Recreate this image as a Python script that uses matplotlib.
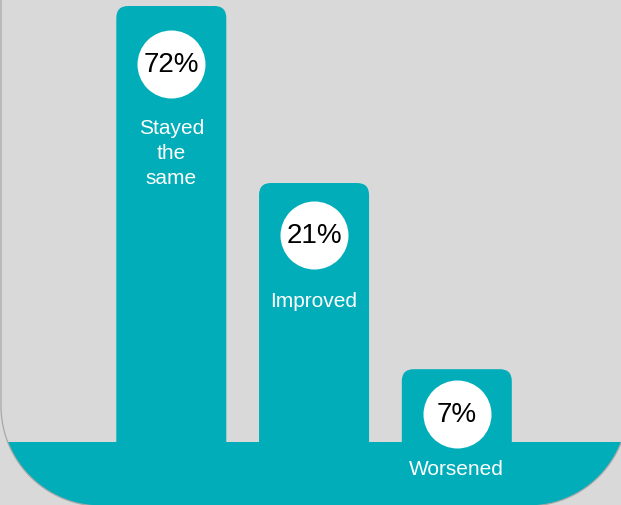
import numpy as np
import matplotlib
matplotlib.use("Agg")
import matplotlib.pyplot as plt
from matplotlib.patches import FancyBboxPatch, Rectangle, Polygon

# data read from the infographic (bar heights are not to scale with the values)
categories = ["Stayed\nthe\nsame", "Improved", "Worsened"]
percents = [72, 21, 7]
bar_heights = [100, 59.4, 16.7]   # relative height, tallest = 100

TEAL = "#00adb9"
GREY = "#d9d9d9"
plt.rcParams["font.family"] = ["Liberation Sans", "DejaVu Sans"]

W, H = 621, 506
X_PER = 142.75      # px per category step
X0 = 171.3          # px of first category centre
Y_PER = 4.36        # px per height unit
BASE = 63           # px of baseline from bottom

# per-bar layout tweaks (px below bar top)
circle_drop = [58, 52, 45]
label_drop = [112, 108, 90]

fig = plt.figure(figsize=(W / 100, H / 100), dpi=100, facecolor=GREY)

# background: panel with rounded bottom corners and a teal floor band
bg = fig.add_axes([0, 0, 1, 1])
bg.set_xlim(0, W); bg.set_ylim(0, H); bg.axis("off")
r, left, right, bot = 100, 1, 628, -1
t1 = np.linspace(np.pi, 1.5 * np.pi, 40)
t2 = np.linspace(1.5 * np.pi, 2 * np.pi, 40)
xs = np.concatenate([[left], left + r + r * np.cos(t1), right - r + r * np.cos(t2), [right]])
ys = np.concatenate([[H + 20], bot + r + r * np.sin(t1), bot + r + r * np.sin(t2), [H + 20]])
floor = Polygon(np.column_stack([xs, ys]), closed=True, facecolor=TEAL, edgecolor="none")
bg.add_patch(floor)
floor.set_clip_path(Rectangle((0, 0), W, BASE, transform=bg.transData))
bg.plot(xs, ys, color="#a8a8a8", linewidth=0.9)

ax = fig.add_axes([0, 0, 1, 1], facecolor="none")
ax.set_xlim(-X0 / X_PER, (W - X0) / X_PER)
ax.set_ylim(-BASE / Y_PER, (H - BASE) / Y_PER)
ax.axis("off")

bw = 110 / X_PER
for i, (lab, pct, h) in enumerate(zip(categories, percents, bar_heights)):
    ax.add_patch(FancyBboxPatch((i - bw / 2, -10), bw, h + 10,
                                boxstyle=f"round,pad=0,rounding_size={12 / X_PER}",
                                mutation_aspect=X_PER / Y_PER,
                                facecolor=TEAL, edgecolor="none", zorder=2))
    cy = h - circle_drop[i] / Y_PER
    ax.scatter([i], [cy], s=(68 * 0.72) ** 2, color="white", zorder=3, linewidths=0)
    ax.text(i, cy, f"{pct}%", ha="center", va="center", fontsize=20,
            color="black", zorder=4)
    ax.text(i, h - label_drop[i] / Y_PER, lab, ha="center", va="top",
            fontsize=15, color="white", linespacing=1.4, zorder=4)

fig.savefig("out.png", dpi=100, facecolor=GREY)
